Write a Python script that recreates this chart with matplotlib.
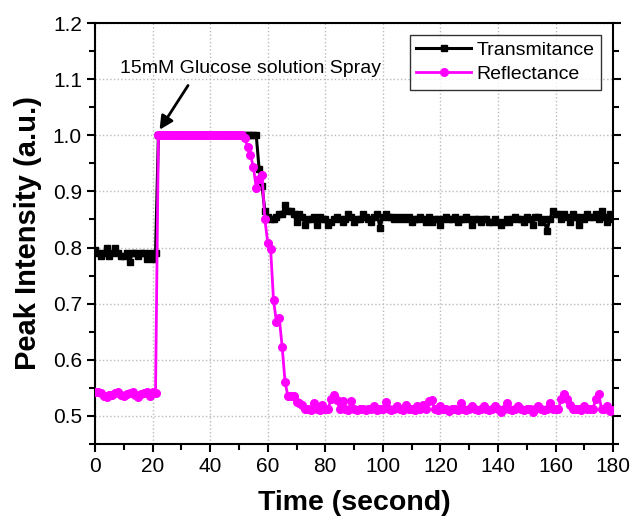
import matplotlib
matplotlib.use("Agg")
import matplotlib.pyplot as plt
from matplotlib.ticker import MultipleLocator, FormatStrFormatter

plt.rcParams['font.family'] = ['Liberation Sans', 'DejaVu Sans']

time_s = list(range(0, 181))

transmittance = [
    # 0-21
    0.795, 0.79, 0.785, 0.79, 0.80, 0.785, 0.79, 0.80, 0.79, 0.785,
    0.785, 0.79, 0.775, 0.79, 0.79, 0.785, 0.79, 0.79, 0.78, 0.79,
    0.78, 0.79,
    # 22-56
    1.0, 1.0, 1.0, 1.0, 1.0, 1.0, 1.0, 1.0, 1.0, 1.0,
    1.0, 1.0, 1.0, 1.0, 1.0, 1.0, 1.0, 1.0, 1.0, 1.0,
    1.0, 1.0, 1.0, 1.0, 1.0, 1.0, 1.0, 1.0, 1.0, 1.0,
    1.0, 1.0, 1.0, 1.0, 1.0,
    # 57-59
    0.94, 0.91, 0.865,
    # 60-180
    0.855, 0.85, 0.85, 0.855, 0.86, 0.86, 0.875, 0.865, 0.865, 0.86,
    0.845, 0.86, 0.855, 0.84, 0.85, 0.85, 0.855, 0.84, 0.855, 0.85,
    0.85, 0.84, 0.845, 0.85, 0.855, 0.85, 0.845, 0.85, 0.86, 0.855,
    0.845, 0.85, 0.85, 0.86, 0.855, 0.85, 0.845, 0.855, 0.86, 0.835,
    0.855, 0.86, 0.855, 0.855, 0.85, 0.855, 0.85, 0.855, 0.85, 0.855,
    0.845, 0.85, 0.85, 0.855, 0.85, 0.845, 0.855, 0.845, 0.85, 0.85,
    0.84, 0.85, 0.855, 0.85, 0.85, 0.855, 0.845, 0.85, 0.85, 0.855,
    0.85, 0.84, 0.85, 0.85, 0.845, 0.85, 0.85, 0.845, 0.845, 0.85,
    0.845, 0.84, 0.845, 0.85, 0.845, 0.85, 0.855, 0.85, 0.85, 0.845,
    0.855, 0.85, 0.84, 0.855, 0.855, 0.845, 0.85, 0.83, 0.85, 0.865,
    0.86, 0.86, 0.85, 0.86, 0.855, 0.845, 0.86, 0.855, 0.84, 0.855,
    0.85, 0.86, 0.855, 0.855, 0.86, 0.85, 0.865, 0.855, 0.845, 0.86,
    0.85,
]

reflectance = [
    # 0-21
    0.543, 0.543, 0.54, 0.535, 0.534, 0.537, 0.537, 0.54, 0.543, 0.537,
    0.535, 0.538, 0.54, 0.543, 0.537, 0.534, 0.538, 0.54, 0.543, 0.535,
    0.542, 0.54,
    # 22-51
    1.0, 1.0, 1.0, 1.0, 1.0, 1.0, 1.0, 1.0, 1.0, 1.0,
    1.0, 1.0, 1.0, 1.0, 1.0, 1.0, 1.0, 1.0, 1.0, 1.0,
    1.0, 1.0, 1.0, 1.0, 1.0, 1.0, 1.0, 1.0, 1.0, 1.0,
    # 52-71
    0.995, 0.98, 0.965, 0.943, 0.907, 0.923, 0.93, 0.85, 0.808, 0.797,
    0.706, 0.668, 0.674, 0.623, 0.561, 0.535, 0.535, 0.535, 0.525, 0.522,
    # 72-149
    0.52, 0.512, 0.512, 0.51, 0.522, 0.512, 0.51, 0.52, 0.512, 0.512,
    0.53, 0.537, 0.528, 0.512, 0.527, 0.512, 0.51, 0.527, 0.512, 0.51,
    0.512, 0.512, 0.51, 0.512, 0.512, 0.517, 0.51, 0.512, 0.512, 0.524,
    0.512, 0.51, 0.512, 0.517, 0.512, 0.51, 0.52, 0.512, 0.512, 0.51,
    0.517, 0.512, 0.52, 0.512, 0.527, 0.528, 0.512, 0.51, 0.517, 0.512,
    0.512, 0.508, 0.512, 0.512, 0.51, 0.522, 0.512, 0.51, 0.512, 0.517,
    0.512, 0.51, 0.512, 0.517, 0.512, 0.51, 0.512, 0.517, 0.512, 0.507,
    0.512, 0.522, 0.512, 0.51, 0.512, 0.517, 0.512, 0.51,
    # 150-180
    0.512, 0.512, 0.507, 0.512, 0.517, 0.512, 0.51, 0.512, 0.522, 0.512,
    0.512, 0.512, 0.53, 0.538, 0.53, 0.52, 0.512, 0.512, 0.512, 0.51,
    0.517, 0.512, 0.512, 0.512, 0.53, 0.538, 0.512, 0.512, 0.517, 0.508,
    0.51,
]

x_ticks = [0, 20, 40, 60, 80, 100, 120, 140, 160, 180]
y_ticks = [0.5, 0.6, 0.7, 0.8, 0.9, 1.0, 1.1, 1.2]
annotation = "15mM Glucose solution Spray"

fig = plt.figure(figsize=(6.34, 5.16), dpi=100)
ax = fig.add_axes([0.150, 0.140, 0.817, 0.815])

ax.plot(time_s, transmittance, color='black', lw=2.2, marker='s', ms=4,
        label='Transmitance', zorder=3)
ax.plot(time_s, reflectance, color='#FF00FF', lw=2.0, marker='o', ms=5.5,
        label='Reflectance', zorder=4)

ax.set_xlim(0, 180)
ax.set_ylim(0.45, 1.2)
ax.set_xticks(x_ticks)
ax.set_yticks(y_ticks)
ax.xaxis.set_minor_locator(MultipleLocator(10))
ax.yaxis.set_minor_locator(MultipleLocator(0.05))
ax.yaxis.set_major_formatter(FormatStrFormatter('%.1f'))

ax.grid(True, which='major', linestyle=':', color='#bbbbbb', lw=1.0)
ax.set_axisbelow(True)

ax.tick_params(which='both', direction='out', labelsize=15, width=1.5,
               right=True, top=False, left=True, bottom=True)
ax.tick_params(which='major', length=6)
ax.tick_params(which='minor', length=4)
for sp in ax.spines.values():
    sp.set_linewidth(1.5)

ax.set_xlabel('Time (second)', fontsize=20.5, fontweight='bold', labelpad=10)
ax.set_ylabel('Peak Intensity (a.u.)', fontsize=21, fontweight='bold', labelpad=8)

leg = ax.legend(loc='upper right', fontsize=14, frameon=True, fancybox=False,
                edgecolor='black', handlelength=2.8, handletextpad=0.3,
                borderpad=0.35, labelspacing=0.3, borderaxespad=0.6)
leg.get_frame().set_linewidth(1.0)

ax.text(53.9, 1.119, annotation, fontsize=14, ha='center', va='center')
ax.annotate('', xy=(22.4, 1.01), xytext=(32.3, 1.089),
            arrowprops=dict(arrowstyle='-|>', color='black', lw=2.0,
                            mutation_scale=20, shrinkA=0, shrinkB=0))

fig.savefig('out.png', dpi=100)
